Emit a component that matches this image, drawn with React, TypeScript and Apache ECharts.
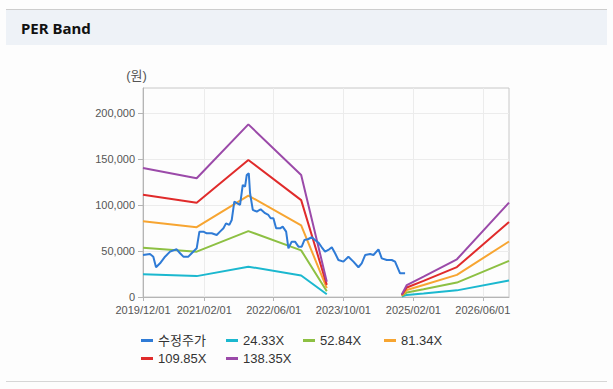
import React, { useEffect, useRef } from 'react';
import * as echarts from 'echarts';

// 수정주가 (adjusted price)
const priceDates = [
  '2019-12-01', '2020-01-19', '2020-02-11', '2020-03-01', '2020-03-29', '2020-05-03', '2020-06-07',
  '2020-07-23', '2020-08-16', '2020-09-08', '2020-10-13', '2020-11-05', '2020-12-10', '2020-12-29',
  '2021-01-26', '2021-02-18', '2021-03-25', '2021-04-29', '2021-05-22', '2021-06-15', '2021-07-03',
  '2021-07-26', '2021-08-12', '2021-08-30', '2021-09-20', '2021-10-09', '2021-10-28', '2021-11-13',
  '2021-11-25', '2021-12-09', '2021-12-18', '2022-01-06', '2022-02-03', '2022-03-02', '2022-04-02',
  '2022-04-25', '2022-05-11', '2022-05-30', '2022-06-18', '2022-07-16', '2022-08-03', '2022-08-27',
  '2022-09-12', '2022-10-05', '2022-10-28', '2022-11-21', '2022-12-14', '2023-01-02', '2023-01-30',
  '2023-02-22', '2023-03-17', '2023-04-10', '2023-05-03', '2023-05-26', '2023-06-18', '2023-07-12',
  '2023-08-04', '2023-08-27', '2023-10-01', '2023-11-05', '2023-12-10', '2024-01-14', '2024-02-06',
  '2024-03-01', '2024-04-05', '2024-04-28', '2024-06-02', '2024-06-25', '2024-07-30', '2024-09-03',
  '2024-09-26', '2024-10-31', '2024-12-05'
];
const priceValues = [
  45600, 46700, 43800, 32300, 36600, 43800, 49250,
  51800, 47500, 43800, 43800, 47500, 52900, 71000,
  71000, 69200, 69200, 67400, 71000, 74600, 80000,
  78300, 83700, 103600, 101800, 100000, 121700, 119900,
  132600, 134400, 112700, 94600, 92700, 95300, 91000,
  89100, 85500, 85500, 74600, 74600, 76400, 71000,
  52900, 60100, 60100, 54700, 54700, 62000, 63000,
  64900, 62000, 59000, 54000, 49200, 51100, 54000,
  47500, 40200, 38400, 43800, 38400, 32300, 36600,
  45600, 46700, 45600, 51800, 42000, 40200, 40200,
  38400, 25700, 25700
];

// PER band dates (null = no band)
const bandDates = [
  '2019-12-01', '2020-12-10', '2021-12-06', '2022-12-10', '2023-06-07',
  '2024-03-01',
  '2024-11-12', '2024-12-17', '2025-04-13', '2025-12-02', '2026-12-01'
];
const band2433 = [24622, 22676, 32967, 23308, 2920, null, 487, 2287, 3893, 7202, 18029];
const band5284 = [53474, 49247, 71598, 50621, 6341, null, 1057, 4967, 8454, 15641, 39154];
const band8134 = [82316, 75809, 110216, 77924, 9761, null, 1627, 7646, 13014, 24077, 60273];
const band10985 = [111168, 102380, 148847, 105236, 13182, null, 2197, 10326, 17576, 32516, 81399];
const band13835 = [140010, 128942, 187464, 132539, 16602, null, 2767, 13005, 22136, 40952, 102517];

const xTickDates = ['2019-12-01', '2021-02-01', '2022-06-01', '2023-10-01', '2025-02-01', '2026-06-01'];
const xMin = '2019-12-01';
const xMax = '2026-12-01';
const yTicks = [0, 50000, 100000, 150000, 200000];

const seriesNames = ['수정주가', '24.33X', '52.84X', '81.34X', '109.85X', '138.35X'];
const seriesColors = ['#2f7bd6', '#1bb8cf', '#8dc043', '#f7a531', '#e02b2b', '#9b4aa9'];

const FONT = '"Liberation Sans", "Noto Sans CJK KR", sans-serif';

function toTs(s: string): number {
  const [y, m, d] = s.split('-').map(Number);
  return new Date(y, m - 1, d).getTime();
}
function pad(n: number): string {
  return n < 10 ? '0' + n : '' + n;
}

export default function App() {
  const ref = useRef<HTMLDivElement>(null);
  useEffect(() => {
    const chart = echarts.init(ref.current!, null, { renderer: 'svg' });
    const bands = [band2433, band5284, band8134, band10985, band13835];
    const series: any[] = bands.map((b, k) => ({
      name: seriesNames[k + 1],
      type: 'line',
      symbol: 'none',
      showSymbol: false,
      connectNulls: false,
      lineStyle: { width: 2, color: seriesColors[k + 1] },
      itemStyle: { color: seriesColors[k + 1] },
      data: bandDates.map((d, i) => [toTs(d), b[i]]),
    }));
    series.push({
      name: seriesNames[0],
      type: 'line',
      symbol: 'none',
      showSymbol: false,
      lineStyle: { width: 2, color: seriesColors[0] },
      itemStyle: { color: seriesColors[0] },
      data: priceDates.map((d, i) => [toTs(d), priceValues[i]]),
    });

    const legendPos = [
      { left: 141, top: 334 },
      { left: 226, top: 334 },
      { left: 303, top: 334 },
      { left: 384, top: 334 },
      { left: 141, top: 352 },
      { left: 226, top: 352 },
    ];
    const legends = seriesNames.map((n, i) => ({
      data: [n],
      left: legendPos[i].left,
      top: legendPos[i].top,
      padding: 0,
      icon: 'rect',
      itemWidth: 12,
      itemHeight: 3,
      itemGap: 0,
      textStyle: { fontSize: 13, color: '#333', fontFamily: FONT },
    }));

    const tickTs = xTickDates.map(toTs);

    chart.setOption({
      animation: false,
      backgroundColor: '#fdfdfd',
      textStyle: { fontFamily: FONT },
      graphic: [
        { type: 'rect', shape: { x: 6, y: 9, width: 601, height: 1 }, style: { fill: '#cdcdcd' } },
        { type: 'rect', shape: { x: 6, y: 10, width: 601, height: 35 }, style: { fill: '#eef2f7' } },
        {
          type: 'text', x: 21, y: 28,
          style: { text: 'PER Band', fontSize: 15, fontWeight: 'bold', fill: '#111', fontFamily: '"Noto Sans", sans-serif', verticalAlign: 'middle' },
        },
        {
          type: 'text', x: 136.5, y: 75,
          style: { text: '(원)', fontSize: 13, fill: '#555', fontFamily: FONT, align: 'center', verticalAlign: 'middle' },
        },
        { type: 'rect', shape: { x: 6, y: 381, width: 601, height: 1 }, style: { fill: '#d6d6d6' } },
      ],
      legend: legends,
      grid: {
        left: 143, right: 104, top: 88, bottom: 92,
        show: true, borderColor: '#c8c8c8', borderWidth: 1, backgroundColor: 'transparent',
      },
      xAxis: {
        type: 'value',
        min: toTs(xMin),
        max: toTs(xMax),
        axisLine: { show: true, lineStyle: { color: '#b5b5b5' } },
        axisTick: { show: true, length: 4, customValues: tickTs, lineStyle: { color: '#b5b5b5' } },
        axisLabel: {
          customValues: tickTs,
          fontSize: 11,
          color: '#555',
          fontFamily: FONT,
          margin: 7,
          showMinLabel: true,
          showMaxLabel: true,
          formatter: (v: number) => {
            const d = new Date(v);
            return `${d.getFullYear()}/${pad(d.getMonth() + 1)}/${pad(d.getDate())}`;
          },
        },
        splitLine: { show: true, lineStyle: { color: '#ececec' } },
      },
      yAxis: {
        type: 'value',
        min: 0,
        max: 227000,
        interval: 50000,
        axisLine: { show: true, lineStyle: { color: '#b5b5b5' } },
        axisTick: { show: true, length: 5, customValues: yTicks, lineStyle: { color: '#b5b5b5' } },
        axisLabel: {
          customValues: yTicks,
          fontSize: 11,
          color: '#555',
          fontFamily: FONT,
          margin: 8,
          formatter: (v: number) => v.toLocaleString('en-US'),
        },
        splitLine: { show: true, lineStyle: { color: '#ececec' } },
      },
      series,
    });
    return () => chart.dispose();
  }, []);
  return (
    <div
      ref={ref}
      style={{ position: 'fixed', left: 0, top: 0, width: 613, height: 389, background: '#fdfdfd' }}
    />
  );
}
